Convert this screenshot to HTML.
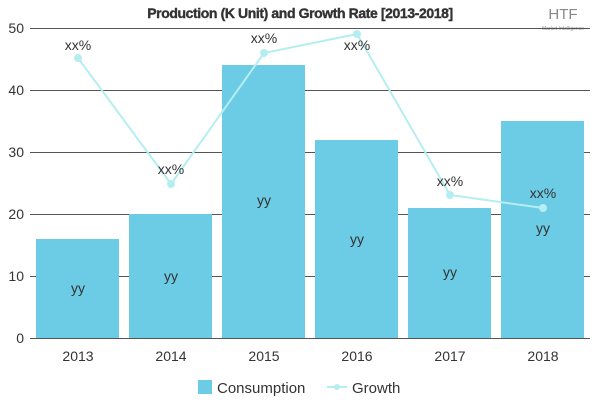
<!DOCTYPE html>
<html><head><meta charset="utf-8"><style>body{margin:0;background:#fff}svg{display:block}</style></head><body>
<svg width="600" height="400" xmlns="http://www.w3.org/2000/svg" font-family="Liberation Sans, sans-serif">
<text x="300" y="18" text-anchor="middle" font-size="14" font-weight="bold" fill="#333" stroke="#333" stroke-width="0.4" style="letter-spacing:-0.4px">Production (K Unit) and Growth Rate [2013-2018]</text>
<text x="563" y="19" text-anchor="middle" font-size="15" fill="#888">HTF</text>
<text x="563" y="30" text-anchor="middle" font-size="5" fill="#888">Market Intelligence</text>
<g stroke="#555" stroke-width="1">
<line x1="30" y1="28.5" x2="590" y2="28.5"/><line x1="30" y1="90.5" x2="590" y2="90.5"/><line x1="30" y1="152.5" x2="590" y2="152.5"/><line x1="30" y1="214.5" x2="590" y2="214.5"/><line x1="30" y1="276.5" x2="590" y2="276.5"/><line x1="30" y1="338.5" x2="590" y2="338.5"/>
</g>
<g font-size="14" fill="#333" text-anchor="end">
<text x="24" y="33">50</text><text x="24" y="95">40</text><text x="24" y="157">30</text><text x="24" y="219">20</text><text x="24" y="281">10</text><text x="24" y="343">0</text>
</g>
<g fill="#6ccbe5">
<rect x="36" y="239" width="83" height="99"/><rect x="129" y="214" width="83" height="124"/><rect x="222" y="65" width="83" height="273"/><rect x="315" y="140" width="83" height="198"/><rect x="408" y="208" width="83" height="130"/><rect x="501" y="121" width="83" height="217"/>
</g>
<g font-size="14" fill="#333" text-anchor="middle">
<text x="78" y="293">yy</text><text x="171" y="281">yy</text><text x="264" y="205">yy</text><text x="357" y="244">yy</text><text x="450" y="277">yy</text><text x="543" y="233">yy</text>
<text x="78" y="361">2013</text><text x="171" y="361">2014</text><text x="264" y="361">2015</text><text x="357" y="361">2016</text><text x="450" y="361">2017</text><text x="543" y="361">2018</text>
</g>
<polyline points="78,58 171,184 264,53 357,34 450,195 543,208" fill="none" stroke="#b5eef0" stroke-width="2"/>
<g fill="#b5eef0"><circle cx="78" cy="58" r="4"/><circle cx="171" cy="184" r="4"/><circle cx="264" cy="53" r="4"/><circle cx="357" cy="34" r="4"/><circle cx="450" cy="195" r="4"/><circle cx="543" cy="208" r="4"/></g>
<g font-size="14" fill="#333" text-anchor="middle">
<text x="78" y="50">xx%</text><text x="171" y="174">xx%</text><text x="264" y="43">xx%</text><text x="357" y="50">xx%</text><text x="450" y="186">xx%</text><text x="543" y="198">xx%</text>
</g>
<rect x="198" y="380" width="14" height="14" fill="#6ccbe5"/>
<text x="217" y="393" font-size="15" fill="#333">Consumption</text>
<line x1="327" y1="387" x2="347" y2="387" stroke="#b5eef0" stroke-width="2"/><circle cx="337" cy="387" r="3" fill="#b5eef0"/>
<text x="352" y="393" font-size="15" fill="#333">Growth</text>
</svg>
</body></html>
